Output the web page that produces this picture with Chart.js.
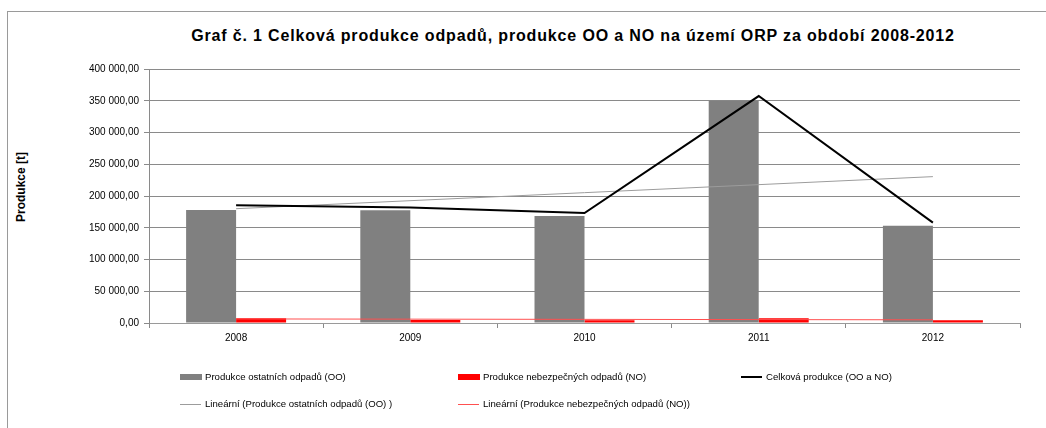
<!DOCTYPE html>
<html>
<head>
<meta charset="utf-8">
<script src="https://cdn.jsdelivr.net/npm/chart.js@4.4.1/dist/chart.umd.min.js"></script>
<style>
  html, body { margin: 0; padding: 0; background: #fff; }
  body { width: 1046px; height: 428px; position: relative; overflow: hidden; font-family: "Liberation Sans", Arial, sans-serif; }
  #frame { position: absolute; left: 7px; top: 11px; width: 1100px; height: 500px; border-left: 1px solid #9a9a9a; border-top: 1px solid #9a9a9a; }
  #title { position: absolute; left: 0; width: 1146px; top: 27px; text-align: center; font-weight: bold; font-size: 16px; letter-spacing: 0.85px; color: #000; white-space: nowrap; }
  #ytitle { position: absolute; left: 21px; top: 187px; transform: translate(-50%, -50%) rotate(-90deg); font-weight: bold; font-size: 12px; white-space: nowrap; color: #000; }
  canvas { position: absolute; left: 0; top: 0; }
  .leg { position: absolute; font-size: 10px; color: #000; white-space: nowrap; line-height: 12px; }
  .sw { position: absolute; }
</style>
</head>
<body>
<div id="frame"></div>
<div id="title">Graf č. 1 Celková produkce odpadů, produkce OO a NO na území ORP za období 2008-2012</div>
<div id="ytitle">Produkce [t]</div>
<canvas id="c" width="1046" height="428"></canvas>
<div id="legend"></div>
<script>
const categories = ["2008", "2009", "2010", "2011", "2012"];
const ostatni = [178000, 177500, 168500, 350000, 153000];
const nebezpecne = [7400, 4800, 4500, 7400, 4200];
const celkova = [185400, 181800, 173200, 357400, 158000];
const trendOstatni = [180000, null, null, null, 230500];
const trendNebezpecne = [6400, null, null, null, 5000];
const yTicks = [0, 50000, 100000, 150000, 200000, 250000, 300000, 350000, 400000];
const seriesNames = [
  "Produkce ostatních odpadů (OO)",
  "Produkce nebezpečných odpadů (NO)",
  "Celková produkce (OO a NO)",
  "Lineární (Produkce ostatních odpadů (OO) )",
  "Lineární (Produkce nebezpečných odpadů (NO))"
];

function fmt(v) {
  const parts = Math.round(v).toString().replace(/\B(?=(\d{3})+(?!\d))/g, " ");
  return parts + ",00";
}

const FONT = "'Liberation Sans', Arial, sans-serif";

new Chart(document.getElementById('c'), {
  data: {
    labels: categories,
    datasets: [
      { type: 'line', label: seriesNames[2], data: celkova, borderColor: '#000', borderWidth: 2, pointRadius: 0, tension: 0, order: 0 },
      { type: 'line', label: seriesNames[3], data: trendOstatni, borderColor: '#9c9c9c', borderWidth: 1, pointRadius: 0, tension: 0, spanGaps: true, order: 0 },
      { type: 'line', label: seriesNames[4], data: trendNebezpecne, borderColor: '#ff5050', borderWidth: 1, pointRadius: 0, tension: 0, spanGaps: true, order: 0 },
      { type: 'bar', label: seriesNames[0], data: ostatni, backgroundColor: '#808080', categoryPercentage: 0.574, barPercentage: 1.0, order: 1 },
      { type: 'bar', label: seriesNames[1], data: nebezpecne, backgroundColor: '#ff0000', categoryPercentage: 0.574, barPercentage: 1.0, order: 1 }
    ]
  },
  options: {
    responsive: false,
    animation: false,
    events: [],
    layout: { padding: { left: 0, top: 69, right: 26, bottom: 0 } },
    plugins: { legend: { display: false }, title: { display: false }, tooltip: { enabled: false } },
    scales: {
      x: {
        type: 'category',
        offset: true,
        grid: { offset: true, drawOnChartArea: false, drawTicks: true, tickLength: 5, color: '#8a8a8a' },
        border: { color: '#9a9a9a', width: 1 },
        ticks: { font: { family: FONT, size: 10 }, color: '#000', padding: 4, maxRotation: 0 },
        afterFit: (s) => { s.height = 428 - 323; }
      },
      y: {
        min: 0, max: 400000,
        afterBuildTicks: (s) => { s.ticks = yTicks.map(v => ({ value: v })); },
        grid: { color: '#8a8a8a', lineWidth: 1, drawTicks: true, tickLength: 5 },
        border: { color: '#8a8a8a', width: 1 },
        ticks: { font: { family: FONT, size: 10 }, color: '#000', padding: 5, callback: (v) => fmt(v) },
        afterFit: (s) => { s.width = 149; }
      }
    }
  }
});

// HTML legend
const legendItems = [
  { x: 180, y: 377, kind: 'box', color: '#808080', text: seriesNames[0] },
  { x: 458, y: 377, kind: 'box', color: '#ff0000', text: seriesNames[1] },
  { x: 741, y: 377, kind: 'line', color: '#000', w: 2, text: seriesNames[2] },
  { x: 180, y: 404, kind: 'line', color: '#9c9c9c', w: 1, text: seriesNames[3] },
  { x: 458, y: 404, kind: 'line', color: '#ff5050', w: 1, text: seriesNames[4] }
];
const leg = document.getElementById('legend');
legendItems.forEach(it => {
  const sw = document.createElement('div');
  sw.className = 'sw';
  if (it.kind === 'box') {
    Object.assign(sw.style, { left: it.x + 'px', top: (it.y - 3) + 'px', width: '22px', height: '6px', background: it.color });
  } else {
    Object.assign(sw.style, { left: it.x + 'px', top: (it.y - Math.floor(it.w / 2)) + 'px', width: '21px', height: it.w + 'px', background: it.color });
  }
  leg.appendChild(sw);
  const t = document.createElement('div');
  t.className = 'leg';
  t.textContent = it.text;
  Object.assign(t.style, { left: (it.x + 25) + 'px', top: (it.y - 6) + 'px', fontSize: '9.6px' });
  leg.appendChild(t);
});
</script>
</body>
</html>
